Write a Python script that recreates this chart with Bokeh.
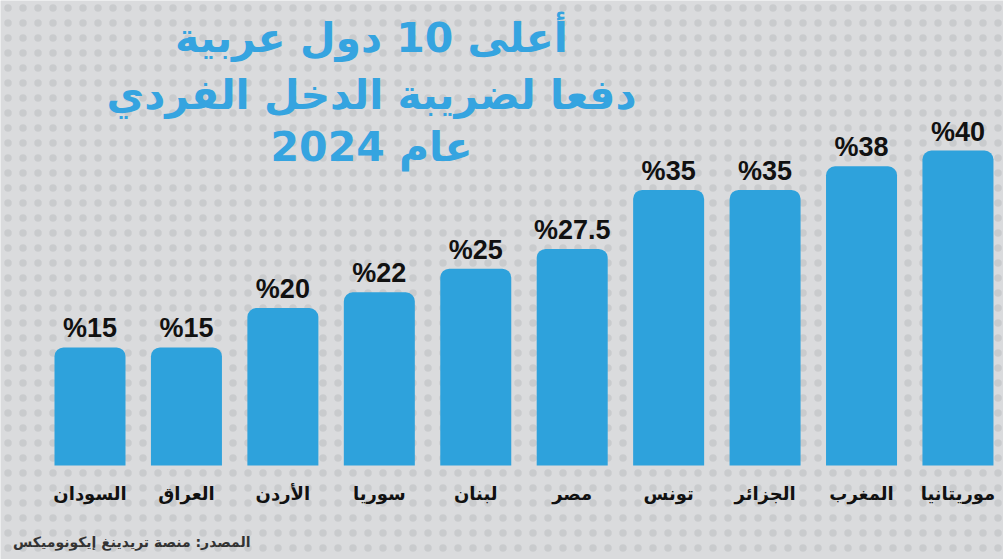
import numpy as np
from bokeh.plotting import figure
from bokeh.models import Range1d, Label, ColumnDataSource
from bokeh.core.properties import value
from bokeh.embed import file_html
from bokeh.resources import INLINE

# ---- data ----
countries = ["السودان", "العراق", "الأردن", "سوريا", "لبنان", "مصر", "تونس", "الجزائر", "المغرب", "موريتانيا"]
rates = [15, 15, 20, 22, 25, 27.5, 35, 35, 38, 40]
rate_labels = ["%15", "%15", "%20", "%22", "%25", "%27.5", "%35", "%35", "%38", "%40"]
title_lines = ["أعلى 10 دول عربية", "دفعا لضريبة الدخل الفردي", "عام 2024"]
source_text = "المصدر: منصة تريدينغ إيكونوميكس"

W, H = 1003, 559
X0, PITCH = 89.5, 96.44      # pixel centre of first bar, bar spacing
Y0, SCALE = 465.0, 7.875     # pixel of zero line, pixels per percent

def px2x(px):
    return (px - X0) / PITCH

def px2y(py):
    return (Y0 - py) / SCALE

BG = "#dadbdd"
BLUE = "#2ea2dc"

p = figure(width=W, height=H, output_backend="svg", toolbar_location=None,
           x_range=Range1d(px2x(0), px2x(W)), y_range=Range1d(px2y(H), px2y(0)),
           min_border=0, min_border_left=0, min_border_right=0,
           min_border_top=0, min_border_bottom=0)
p.axis.visible = False
p.grid.visible = False
p.outline_line_color = None
p.background_fill_color = BG
p.border_fill_color = BG

# subtle dotted texture
p.quad(left=[px2x(0)], right=[px2x(W)], bottom=[px2y(H)], top=[px2y(0)],
       fill_color=None, line_color=None,
       hatch_pattern="dot", hatch_color="#8f9195", hatch_alpha=0.22, hatch_scale=15, hatch_weight=1)

xs = np.arange(len(countries))
src = ColumnDataSource(dict(x=xs, top=rates, lab=rate_labels, name=countries))

p.vbar(x="x", top="top", bottom=0, width=71 / PITCH, source=src,
       fill_color=BLUE, line_color=None, border_radius=(9, 9, 0, 0))

p.text(x="x", y="top", text="lab", source=src, y_offset=-4,
       text_align="center", text_baseline="bottom",
       text_font=value("Liberation Sans"), text_font_style="bold",
       text_font_size="27px", text_color="#111111")

p.text(x="x", y=px2y(493), text="name", source=src,
       text_align="center", text_baseline="middle",
       text_font=value("DejaVu Sans"), text_font_style="bold",
       text_font_size="18px", text_color="#111111")

for txt, py in zip(title_lines, [37, 94, 146]):
    p.add_layout(Label(x=px2x(371), y=px2y(py), text=txt,
                       text_align="center", text_baseline="middle",
                       text_font="DejaVu Sans", text_font_style="bold",
                       text_font_size="41px", text_color="#35a4e0"))

p.add_layout(Label(x=px2x(250), y=px2y(541), text=source_text,
                   text_align="right", text_baseline="middle",
                   text_font="DejaVu Sans", text_font_style="bold",
                   text_font_size="14px", text_color="#333333"))

open("out.html", "w").write(file_html(p, INLINE))
